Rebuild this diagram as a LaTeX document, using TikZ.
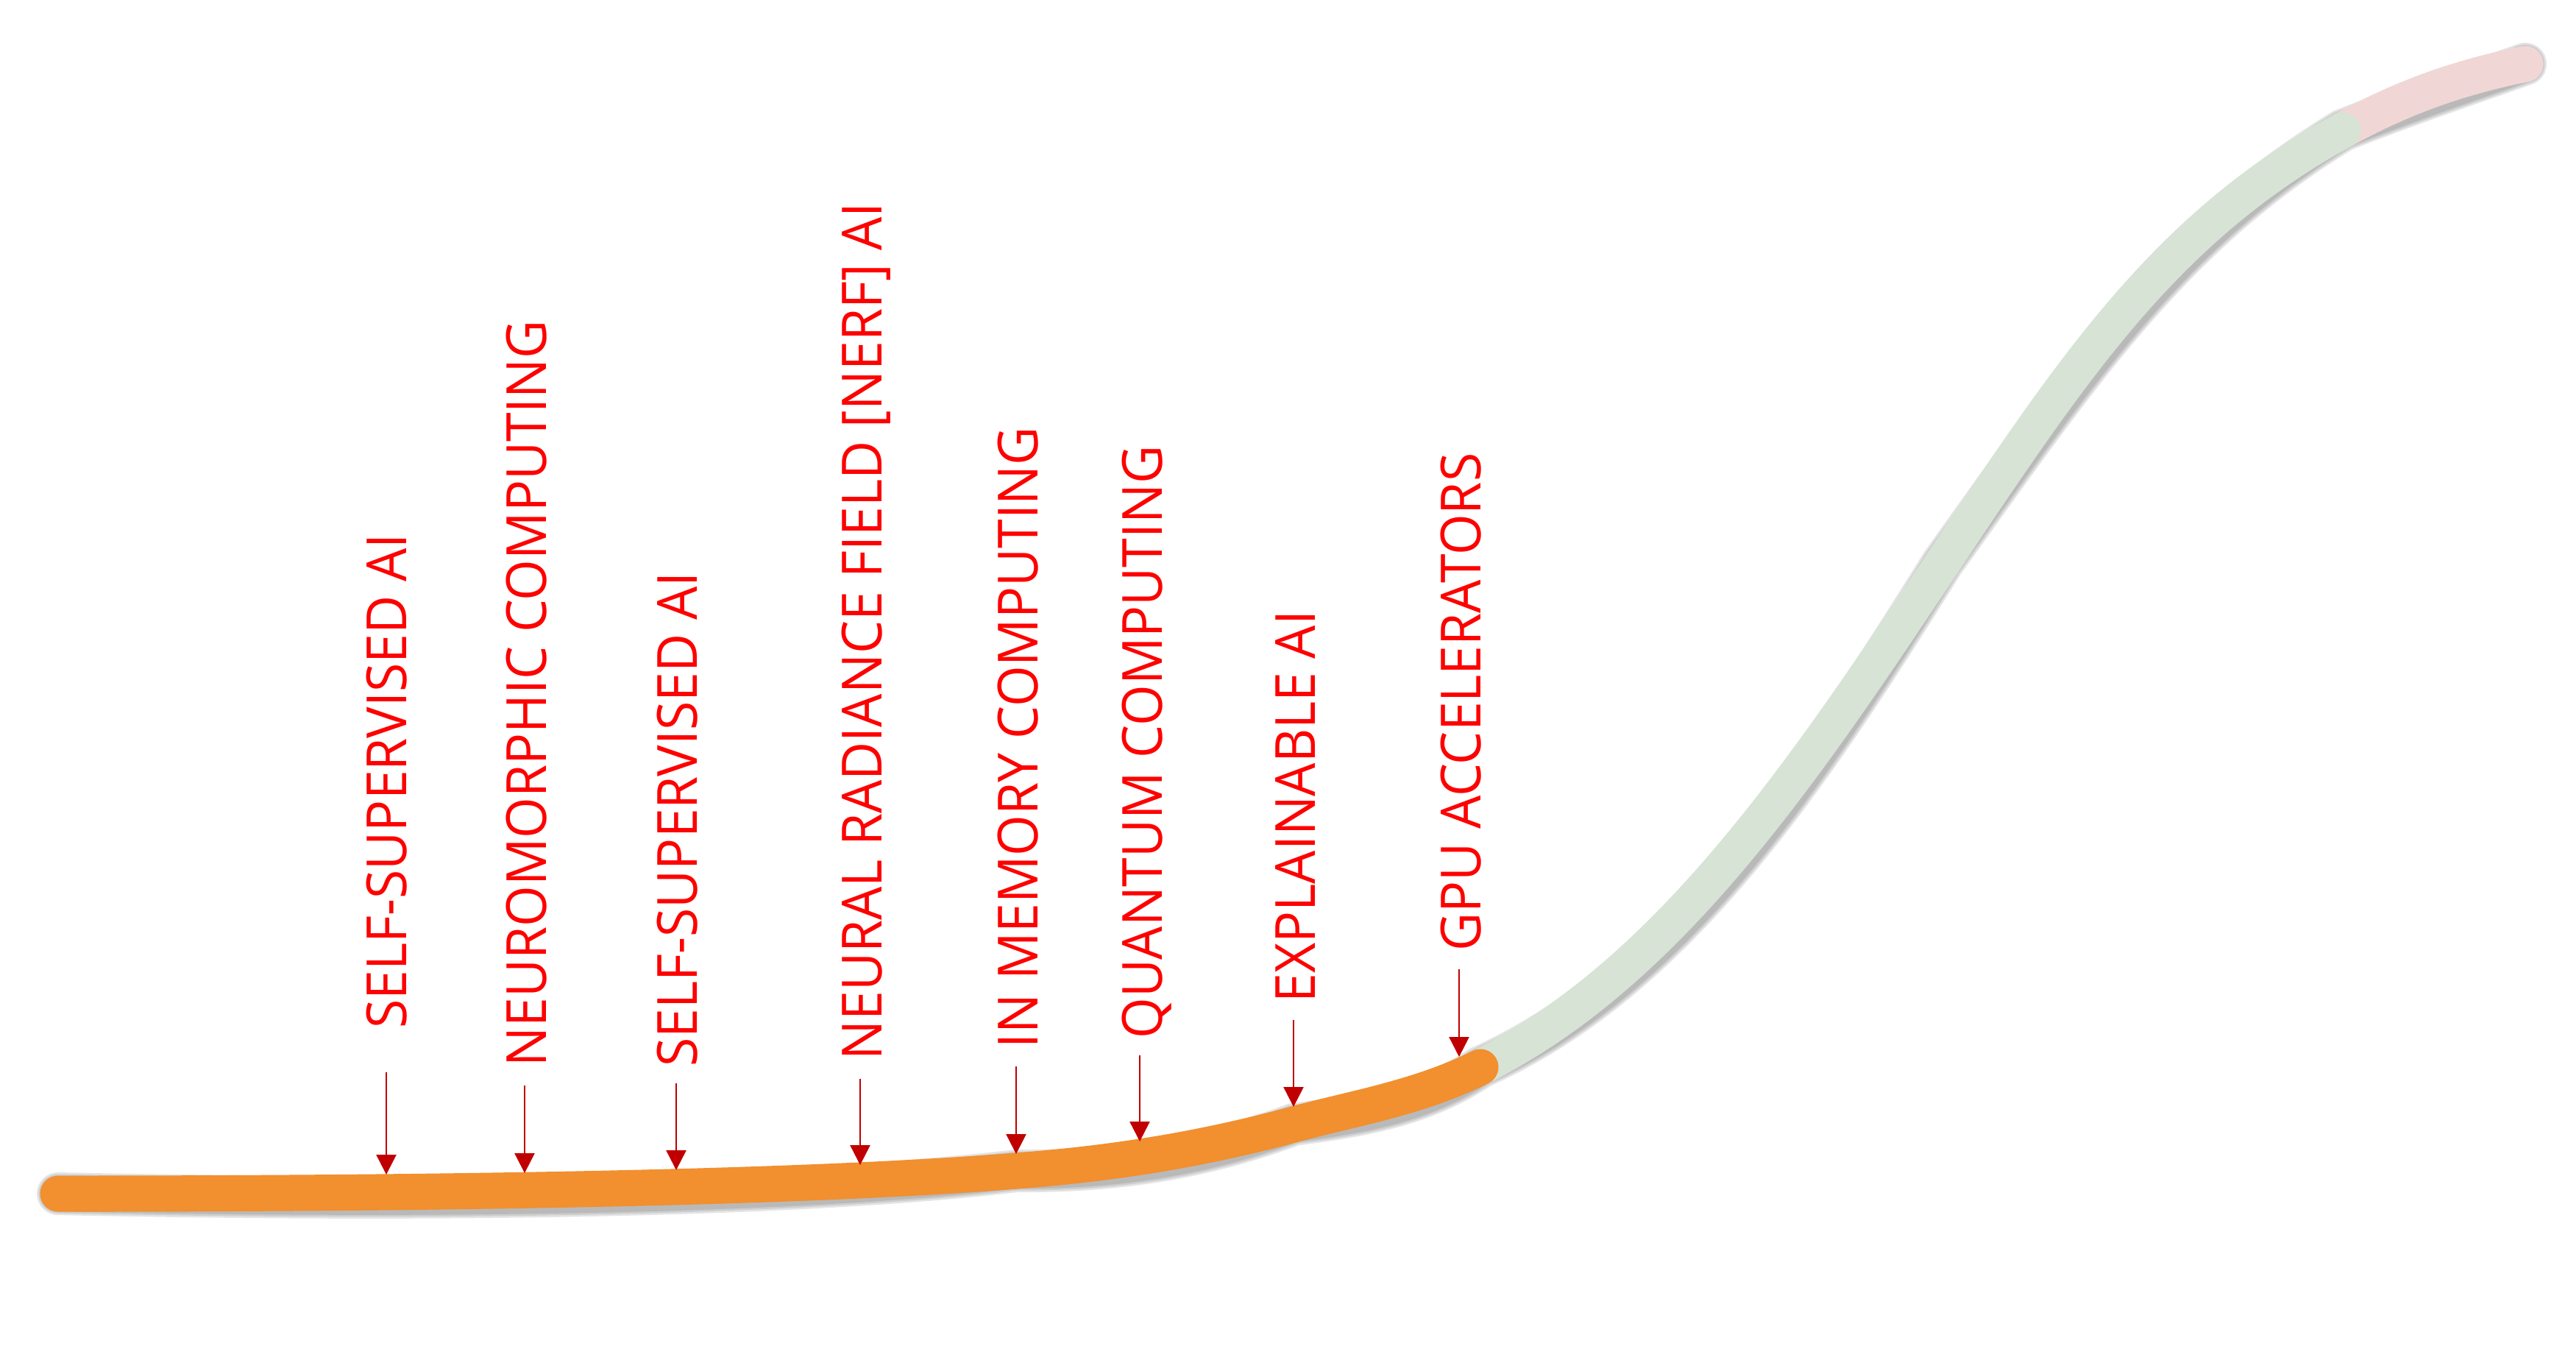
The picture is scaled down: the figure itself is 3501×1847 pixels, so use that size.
\documentclass[tikz,border=0pt]{standalone}
\usepackage{fontspec}
\setmainfont{Open Sans}[FakeStretch=0.95]
\usetikzlibrary{arrows.meta}
\definecolor{lineorange}{RGB}{242,143,46}
\definecolor{linegreen}{RGB}{214,227,213}
\definecolor{linepink}{RGB}{241,214,214}
\definecolor{arrowred}{RGB}{192,0,0}
\definecolor{textred}{RGB}{255,0,0}
\begin{document}
\begin{tikzpicture}[x=0.01cm,y=-0.01cm,
  band/.style={line width=0.49cm, line cap=round},
  shade/.style={line width=#1, line cap=round, draw=black!75, draw opacity=0.14},
  lbl/.style={rotate=90, anchor=west, inner sep=0pt, text height=15.3pt, text depth=0pt,
    font=\fontsize{21.4}{24}\selectfont, text=textred},
  pointer/.style={draw=arrowred, line width=0.7pt, -{Triangle[length=0.27cm,width=0.27cm]}}]
\useasboundingbox (0,0) rectangle (3501,1847);

% key points of the curve
\coordinate (p0) at (79,1622);
\coordinate (p1) at (1381,1591);
\coordinate (p2) at (1758,1528);
\coordinate (p3) at (2012,1450);
\coordinate (q)  at (2640,765);
\coordinate (p7) at (3184,177);
\coordinate (p8) at (3432,87);

% soft shadow
\foreach \w in {0.58cm,0.53cm,0.48cm}{
\draw[shade=\w, shift={(6,11)}] (p0) .. controls (579,1622) and (1081,1615) .. (p1)
  .. controls (1511,1581) and (1628,1563) .. (p2)
  .. controls (1843,1505) and (1927,1492) .. (p3)
  .. controls (2269,1321) and (2450,1050) .. (q)
  .. controls (2820,495) and (2944,309) .. (p7)
  .. controls (3269,130) and (3347,104) .. (p8);
}

% pink part
\draw[band, linepink] (p7) .. controls (3269,130) and (3347,104) .. (p8);
% green part
\draw[band, linegreen] (q) .. controls (2820,495) and (2944,309) .. (p7);
\draw[band, linegreen] (p3) .. controls (2269,1321) and (2450,1050) .. (q);
% orange part
\draw[band, lineorange] (p1) .. controls (1511,1581) and (1628,1563) .. (p2)
  .. controls (1843,1505) and (1927,1492) .. (p3);
\draw[band, lineorange] (p0) .. controls (579,1622) and (1081,1615) .. (p1);

% labels
\node[lbl] (l1) at (526,1398) {SELF-SUPERVISED AI};
\node[lbl] (l2) at (716,1450) {NEUROMORPHIC COMPUTING};
\node[lbl] (l3) at (921,1450) {SELF-SUPERVISED AI};
\node[lbl] (l4) at (1172,1441) {NEURAL RADIANCE FIELD [NERF] AI};
\node[lbl] (l5) at (1384,1425) {IN MEMORY COMPUTING};
\node[lbl] (l6) at (1553,1412) {QUANTUM COMPUTING};
\node[lbl] (l7) at (1761,1363) {EXPLAINABLE AI};
\node[lbl] (l8) at (1986,1293) {GPU ACCELERATORS};

% arrow ends
\coordinate (s1) at (525,1457); \coordinate (t1) at (525,1596);
\coordinate (s2) at (713,1475); \coordinate (t2) at (713,1594);
\coordinate (s3) at (919,1472); \coordinate (t3) at (919,1590);
\coordinate (s4) at (1169,1466); \coordinate (t4) at (1169,1583);
\coordinate (s5) at (1381,1449); \coordinate (t5) at (1381,1568);
\coordinate (s6) at (1549,1434); \coordinate (t6) at (1549,1551);
\coordinate (s7) at (1758,1386); \coordinate (t7) at (1758,1504);
\coordinate (s8) at (1983,1317); \coordinate (t8) at (1983,1436);

\foreach \i in {1,...,8} { \draw[pointer] (s\i) -- (t\i); }
\end{tikzpicture}
\end{document}
